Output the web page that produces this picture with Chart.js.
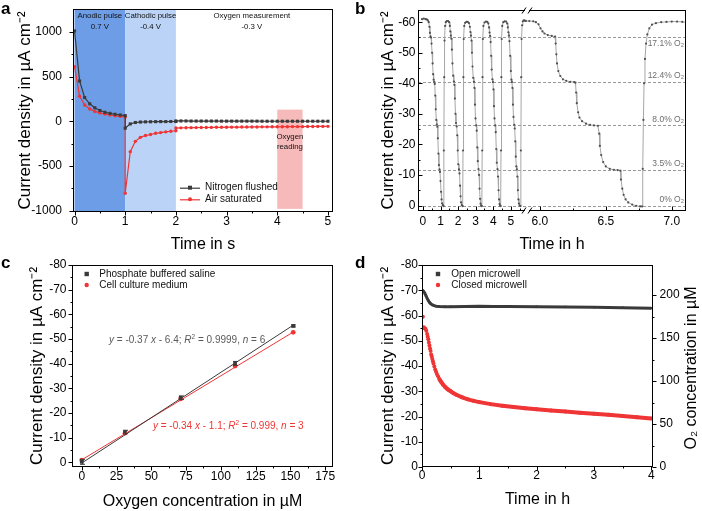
<!DOCTYPE html>
<html lang="en">
<head>
<meta charset="UTF-8" />
<title>Oxygen sensor measurements</title>
<script src="https://cdn.jsdelivr.net/npm/chart.js@4.4.0/dist/chart.umd.min.js"></script>
<style>
  body { margin: 0; background: #fff; font-family: 'Liberation Sans', Arial, sans-serif; }
  #fig { position: relative; width: 702px; height: 511px; }
  #fig canvas { position: absolute; }
  .tag { position: absolute; font-weight: bold; font-size: 17px; line-height: 17px; }
</style>
</head>
<body>
<div id="fig">
  <canvas id="chartA" width="351" height="255" style="left:0;top:0"></canvas>
  <canvas id="chartB" width="351" height="255" style="left:351px;top:0"></canvas>
  <canvas id="chartC" width="351" height="256" style="left:0;top:255px"></canvas>
  <canvas id="chartD" width="351" height="256" style="left:351px;top:255px"></canvas>
  <div class="tag" style="left:1px;top:0">a</div>
  <div class="tag" style="left:355px;top:0">b</div>
  <div class="tag" style="left:1px;top:254px">c</div>
  <div class="tag" style="left:355px;top:254px">d</div>
</div>
<script>
// ---- a: pulse sequence, current density (µA cm-2) vs time (s)
const aTime = [0, 0.1, 0.2, 0.3, 0.4, 0.5, 0.6, 0.7, 0.8, 0.9, 1.0,
  1.0, 1.1, 1.2, 1.3, 1.4, 1.5, 1.6, 1.7, 1.8, 1.9, 2.0,
  2.0, 2.1, 2.2, 2.3, 2.4, 2.5, 2.6, 2.7, 2.8, 2.9, 3.0, 3.1, 3.2, 3.3, 3.4, 3.5,
  3.6, 3.7, 3.8, 3.9, 4.0, 4.1, 4.2, 4.3, 4.4, 4.5, 4.6, 4.7, 4.8, 4.9, 5.0];
const aNitrogen = [1010, 450, 265, 195, 150, 120, 100, 88, 78, 70, 63,
  -78, -30, -14, -9, -7, -6, -5, -4, -4, -3, -3,
  3, 3, 3, 2, 2, 2, 2, 2, 2, 1, 1, 1, 1, 1, 1, 1, 1, 0, 0, 0, 0, 0, 0, 0, 0, 0, 0, 0, 0, 0, 0];
const aAir = [610, 280, 182, 137, 110, 93, 80, 70, 62, 55, 48,
  -805, -340, -225, -180, -160, -148, -135, -127, -119, -112, -107,
  -76, -74, -73, -72, -71, -70, -70, -69, -68, -68, -67, -66, -66, -65, -65, -64,
  -64, -63, -63, -62, -62, -61, -61, -60, -60, -60, -59, -59, -58, -58, -57];
const aPulses = [[0, 1], [1, 2]];          // anodic, cathodic (s)
const aReading = [4, 4.5, -980, 130];      // oxygen reading window
const aTicksX = [0, 1, 2, 3, 4, 5];
const aTicksY = [-1000, -500, 0, 500, 1000];

// ---- b: response to stepwise O2 levels (h)
const bTime = [-0.05, 0.05, 0.15, 0.22, 0.28, 0.33, 0.37, 0.4, 0.43, 0.46, 0.49, 0.52, 0.55, 0.58, 0.61, 0.64, 0.67,
  0.7, 0.73, 0.76, 0.79, 0.82, 0.85, 0.88, 0.91, 0.94, 0.97, 1.0, 1.03, 1.06, 1.09, 1.13, 1.17,
  1.19, 1.21, 1.23, 1.26, 1.3, 1.36, 1.43, 1.49, 1.53, 1.56,
  1.59, 1.62, 1.65, 1.68, 1.72, 1.76, 1.79, 1.82, 1.85, 1.88, 1.92, 1.95, 1.98, 2.01, 2.05, 2.08, 2.11, 2.14, 2.17, 2.21, 2.26,
  2.28, 2.3, 2.32, 2.35, 2.4, 2.47, 2.55, 2.62, 2.67, 2.7,
  2.73, 2.76, 2.79, 2.82, 2.86, 2.9, 2.93, 2.96, 2.99, 3.03, 3.06, 3.09, 3.12, 3.16, 3.19, 3.22, 3.25, 3.28, 3.31, 3.35,
  3.37, 3.39, 3.41, 3.44, 3.5, 3.58, 3.66, 3.72, 3.76, 3.79,
  3.82, 3.85, 3.88, 3.91, 3.95, 3.98, 4.01, 4.04, 4.07, 4.11, 4.14, 4.17, 4.2, 4.24, 4.27, 4.3, 4.33, 4.36, 4.39, 4.42,
  4.44, 4.46, 4.48, 4.51, 4.57, 4.65, 4.73, 4.79, 4.83, 4.86,
  4.89, 4.92, 4.96, 5.0, 5.03, 5.06, 5.09, 5.12, 5.15, 5.19, 5.22, 5.25, 5.28, 5.31, 5.34, 5.37, 5.4, 5.43, 5.46, 5.5, 5.55,
  5.57, 5.59, 5.61, 5.64, 5.68, 5.74, 5.8, 5.86,
  5.92, 5.95, 5.97, 5.99, 6.005, 6.02, 6.035, 6.06, 6.09, 6.115, 6.12, 6.125, 6.13, 6.14, 6.155, 6.175, 6.2, 6.23, 6.26,
  6.27, 6.275, 6.28, 6.29, 6.3, 6.32, 6.35, 6.38, 6.41, 6.44, 6.45, 6.455, 6.465, 6.48, 6.5, 6.53, 6.56, 6.59, 6.61,
  6.615, 6.625, 6.635, 6.65, 6.67, 6.7, 6.73, 6.76, 6.775, 6.78, 6.785, 6.79, 6.797, 6.805, 6.815, 6.83, 6.85, 6.88,
  6.92, 6.96, 7.0, 7.04, 7.08, 7.11];
const bCurrent = [-61.0, -61.2, -61.0, -60.9, -60.6, -60.0, -58.5, -56.5, -55.4, -55.0, -53, -50, -46.5, -43, -41.2, -40.5, -39.8,
  -36, -31.5, -28, -26.5, -25.8, -22, -17, -13.2, -11.8, -11, -8, -4.5, -2, -0.7, -0.1, 0.2,
  -18, -42, -54, -58.8, -60.0, -60.4, -60.4, -60.0, -58.8, -57.0,
  -55.6, -54.6, -51, -46.5, -42.5, -40.6, -39.5, -35, -30, -27, -25.9, -23, -18, -13.5, -11.8, -10.5, -6.5, -3, -1, -0.1, 0.2,
  -18, -42, -54.5, -58.8, -59.8, -60.1, -60.1, -59.7, -58.5, -56.8,
  -55.6, -54, -50, -45.5, -41.8, -40.5, -38.5, -33, -28.5, -26.2, -24.5, -19, -14.5, -11.9, -10, -5.5, -2.2, -0.6, 0, 0.2,
  -18, -42, -54.5, -58.8, -59.9, -60.2, -60.1, -59.6, -58.3, -56.6,
  -55.5, -53.5, -49, -44.5, -41.3, -40.4, -38, -32.5, -28.5, -26.2, -24, -18.5, -14, -11.9, -9.5, -5, -2, -0.5, 0, 0.2,
  -18, -42, -54.5, -58.8, -60, -60.3, -60.2, -59.6, -58.3, -56.7,
  -55.6, -53.8, -49, -44, -41.2, -40.4, -38.5, -33, -29, -26.4, -25.2, -21, -16, -12.8, -11.8, -9.5, -5, -2, -0.6, 0, 0.2,
  -18, -42, -54.5, -59, -60.3, -60.6, -60.5, -60.4,
  -60.4, -60.3, -60.0, -59.3, -58, -57, -56.3, -55.8, -55.5, -55.3, -53, -49.5, -46.5, -44, -42.4, -41.3, -40.8, -40.5, -40.4,
  -40.2, -37, -33.5, -30.5, -28.8, -27.6, -26.8, -26.4, -26.2, -26.1, -23.5, -19.5, -16.5, -14.2, -12.8, -12.0, -11.7, -11.6, -11.4,
  -8.5, -5.5, -3.5, -2.0, -1.0, -0.3, 0.1, 0.3, 0.3, -12, -28, -40, -48, -53, -56, -58, -59.2, -59.7,
  -60.0, -60.1, -60.2, -60.2, -60.1, -60.0];
const bLevels = [-55.3, -40.4, -26.2, -11.6, 0];
const bLevelNames = ['17.1% O₂', '12.4% O₂', '8.0% O₂', '3.5% O₂', '0% O₂'];
const bTickHours = [0, 1, 2, 3, 4, 5, 6.0, 6.5, 7.0];
const bTickNames = ['0', '1', '2', '3', '4', '5', '6.0', '6.5', '7.0'];
const bMinorHours = [0.5, 1.5, 2.5, 3.5, 4.5, 5.5, 6.25, 6.75];
const bTicksY = [-60, -50, -40, -30, -20, -10, 0];
const bBreak = 5.9;     // h, axis break
const bStretch = 7.5;   // part after the break is drawn wider

// ---- c: calibration
const cConc = [0, 31.1, 71.1, 110.2, 152];
const cPBS = [-0.2, -12.3, -26.2, -40.1, -55.3];
const cPBSErr = [1.0, 0.7, 0.7, 0.8, 0.4];
const cMedium = [-0.9, -11.8, -25.7, -39.0, -52.7];
const cFitX = [0, 152];
const cFitPBS = [0.3, -55.6];
const cFitMedium = [-1.0, -52.8];
const cTicksX = [0, 25, 50, 75, 100, 125, 150, 175];
const cTicksY = [-80, -70, -60, -50, -40, -30, -20, -10, 0];

// ---- d: microwells over 4 h
const dOpenTime = [0, 0.015, 0.03, 0.05, 0.07, 0.09, 0.11, 0.13, 0.15, 0.18, 0.21, 0.25, 0.3, 0.4, 0.5, 0.75, 1.0, 1.25, 1.5, 2.0, 2.5, 3.0, 3.5, 4.0];
const dOpen = [-69.5, -69.8, -69.5, -68.8, -67.8, -66.8, -65.9, -65.2, -64.7, -64.2, -63.9, -63.7, -63.6, -63.5, -63.5, -63.6, -63.7, -63.6, -63.6, -63.5, -63.4, -63.3, -63.1, -62.9];
const dClosedTime = [0.015, 0.03, 0.045, 0.06, 0.075, 0.09, 0.1, 0.11, 0.12, 0.13, 0.14, 0.15, 0.16, 0.17, 0.18, 0.19, 0.2,
  0.215, 0.23, 0.245, 0.26, 0.28, 0.3, 0.32, 0.34, 0.37, 0.4, 0.43, 0.46, 0.5, 0.55, 0.6, 0.7, 0.8, 0.9, 1.0,
  1.2, 1.4, 1.6, 1.8, 2.0, 2.25, 2.5, 2.75, 3.0, 3.25, 3.5, 3.75, 4.0];
const dClosed = [-59.5, -55.3, -55.0, -54.8, -54.0, -52.7, -51.6, -50.6, -49.3, -48.1, -46.9, -45.9, -44.6, -43.8, -42.8, -41.9, -41.0,
  -39.8, -38.6, -37.7, -36.8, -35.9, -35.0, -34.2, -33.5, -32.6, -31.8, -31.1, -30.6, -30.0, -29.2, -28.6, -27.6, -26.8, -26.2, -25.7,
  -24.9, -24.3, -23.8, -23.3, -22.9, -22.4, -22.0, -21.5, -21.1, -20.7, -20.2, -19.7, -19.2];
const dTicksX = [0, 1, 2, 3, 4];
const dTicksY = [-80, -70, -60, -50, -40, -30, -20, -10, 0];
const dTicksO2 = [0, 50, 100, 150, 200];

const FONT = "'Liberation Sans', Arial, sans-serif";
const TITLE_Y = 'Current density in µA cm⁻²';
const BLACK = '#3a3a3a';
const RED = '#ef3535';

Chart.defaults.font.family = FONT;
Chart.defaults.color = '#000';

const pts = (xs, ys) => xs.map((x, i) => ({x: x, y: ys[i]}));
const brk = t => t <= bBreak ? t : bBreak + (t - bBreak) * bStretch;

function axis(pos, min, max, ticks, size, pad, title, tpad, labels) {
  const vertical = pos === 'left' || pos === 'right';
  return {
    type: 'linear', position: pos, min: min, max: max,
    afterBuildTicks: s => { s.ticks = ticks.map(v => ({value: v})); },
    afterFit: s => {
      if (s.isHorizontal()) s.height = size; else s.width = size;
      s.paddingLeft = s.paddingRight = s.paddingTop = s.paddingBottom = 0;
    },
    grid: {display: false, drawTicks: false},
    border: {display: false},
    ticks: {
      padding: pad, autoSkip: false, maxRotation: 0, font: {size: 12},
      callback: labels ? (v, i) => labels[i] : v => String(v)
    },
    title: {display: !!title, text: title || '', font: {size: vertical ? 17 : 16}, padding: tpad || 0}
  };
}

// box round the plot and the tick marks
const frame = {
  id: 'frame',
  afterDatasetsDraw(chart, args, o) {
    if (!o.sides) return;
    const ctx = chart.ctx, c = chart.chartArea;
    const L = Math.round(c.left) + 0.5, R = Math.round(c.right) - 0.5;
    const T = Math.round(c.top) + 0.5, B = Math.round(c.bottom) - 0.5;
    const out = o.dir === 'in' ? -1 : 1;
    ctx.save();
    ctx.strokeStyle = '#000';
    ctx.lineWidth = 1;
    ctx.strokeRect(L, T, R - L, B - T);
    o.sides.forEach(([id, side]) => {
      const s = chart.scales[id];
      const major = s.ticks.map(t => t.value);
      const minor = (id === 'x' && o.minorX) ? o.minorX : major.slice(1).map((v, i) => (v + major[i]) / 2);
      const mark = (v, len) => {
        const p = Math.round(s.getPixelForValue(v)) + 0.5;
        ctx.beginPath();
        if (side === 'bottom') { ctx.moveTo(p, B); ctx.lineTo(p, B + out * len); }
        else if (side === 'left') { ctx.moveTo(L, p); ctx.lineTo(L - out * len, p); }
        else { ctx.moveTo(R, p); ctx.lineTo(R + out * len, p); }
        ctx.stroke();
      };
      major.forEach(v => mark(v, 4));
      minor.forEach(v => mark(v, 2));
    });
    if (o.breakAt !== undefined) {
      const x = Math.round(chart.scales.x.getPixelForValue(o.breakAt));
      [B, T].forEach(y => {
        ctx.fillStyle = '#fff';
        ctx.fillRect(x - 2, y - 1.5, 4, 3);
        ctx.beginPath();
        ctx.moveTo(x - 5, y + 3); ctx.lineTo(x - 1, y - 3);
        ctx.moveTo(x + 1, y + 3); ctx.lineTo(x + 5, y - 3);
        ctx.stroke();
      });
    }
    ctx.restore();
  }
};

// shaded windows (a) and dashed O2 levels (b)
const bands = {
  id: 'bands',
  beforeDatasetsDraw(chart, args, o) {
    const ctx = chart.ctx, c = chart.chartArea, x = chart.scales.x, y = chart.scales.y;
    ctx.save();
    (o.items || []).forEach(b => {
      const x0 = x.getPixelForValue(b.x0), x1 = x.getPixelForValue(b.x1);
      const yb = b.y0 === undefined ? c.bottom : y.getPixelForValue(b.y0);
      const yt = b.y1 === undefined ? c.top : y.getPixelForValue(b.y1);
      ctx.fillStyle = b.color;
      ctx.fillRect(x0, yt, x1 - x0, yb - yt);
    });
    if (o.levels) {
      ctx.strokeStyle = '#9a9a9a';
      ctx.lineWidth = 1;
      ctx.setLineDash([3, 2]);
      o.levels.forEach(v => {
        const p = Math.round(y.getPixelForValue(v)) + 0.5;
        ctx.beginPath(); ctx.moveTo(c.left, p); ctx.lineTo(c.right, p); ctx.stroke();
      });
      ctx.setLineDash([]);
      ctx.fillStyle = '#6e6e6e';
      ctx.font = '8.5px ' + FONT;
      ctx.textAlign = 'right';
      ctx.textBaseline = 'middle';
      o.levels.forEach((v, i) => {
        const p = y.getPixelForValue(v) + (i === 0 ? 7 : -6);
        ctx.fillText(o.names[i], c.right - 2, p);
      });
    }
    ctx.restore();
  }
};

// small error bars
const errbars = {
  id: 'errbars',
  afterDatasetsDraw(chart) {
    const ctx = chart.ctx;
    chart.data.datasets.forEach(ds => {
      if (!ds.errors) return;
      const x = chart.scales.x, y = chart.scales.y;
      ctx.save();
      ctx.strokeStyle = ds.borderColor;
      ctx.lineWidth = 1;
      ds.data.forEach((p, i) => {
        const px = Math.round(x.getPixelForValue(p.x)) + 0.5;
        const y0 = y.getPixelForValue(p.y - ds.errors[i]), y1 = y.getPixelForValue(p.y + ds.errors[i]);
        ctx.beginPath();
        ctx.moveTo(px, y0); ctx.lineTo(px, y1);
        ctx.moveTo(px - 2.5, y0); ctx.lineTo(px + 2.5, y0);
        ctx.moveTo(px - 2.5, y1); ctx.lineTo(px + 2.5, y1);
        ctx.stroke();
      });
      ctx.restore();
    });
  }
};

function drawRuns(ctx, runs, x, y, size, color, align, rot) {
  ctx.save();
  ctx.translate(x, y);
  ctx.rotate(rot || 0);
  ctx.fillStyle = color;
  ctx.textBaseline = 'middle';
  ctx.textAlign = 'left';
  const fontOf = k => (k === 'i' ? 'italic ' : '') + (k === 'sup' ? size * 0.65 : size) + 'px ' + FONT;
  let w = 0;
  runs.forEach(r => { ctx.font = fontOf(r[1]); w += ctx.measureText(r[0]).width; });
  let cx = align === 'left' ? 0 : align === 'right' ? -w : -w / 2;
  runs.forEach(r => {
    ctx.font = fontOf(r[1]);
    ctx.fillText(r[0], cx, r[1] === 'sup' ? -size * 0.35 : 0);
    cx += ctx.measureText(r[0]).width;
  });
  ctx.restore();
}

const notes = {
  id: 'notes',
  afterDraw(chart, args, o) {
    (o.items || []).forEach(n => {
      const px = n.px ? n.x : chart.scales.x.getPixelForValue(n.x);
      const py = n.px ? n.y : chart.scales.y.getPixelForValue(n.y);
      drawRuns(chart.ctx, n.runs || [[n.text, '']], px, py, n.size || 7.8, n.color || '#111', n.align || 'center', n.rot);
    });
  }
};

// legend drawn inside the plot
const keys = {
  id: 'keys',
  afterDraw(chart, args, o) {
    if (o.x === undefined) return;
    const ctx = chart.ctx;
    let row = 0;
    chart.data.datasets.forEach(ds => {
      if (!ds.label) return;
      const y = o.y + row * o.dy;
      row++;
      ctx.save();
      ctx.fillStyle = ds.borderColor;
      ctx.strokeStyle = ds.borderColor;
      if (o.line) {
        ctx.lineWidth = 1.2;
        ctx.beginPath(); ctx.moveTo(o.x - 10, y + 0.5); ctx.lineTo(o.x + 10, y + 0.5); ctx.stroke();
      }
      ctx.beginPath();
      if (ds.pointStyle === 'rect') ctx.rect(o.x - o.r, y - o.r, 2 * o.r, 2 * o.r);
      else ctx.arc(o.x, y, o.r, 0, Math.PI * 2);
      ctx.fill();
      ctx.fillStyle = '#111';
      ctx.font = o.size + 'px ' + FONT;
      ctx.textBaseline = 'middle';
      ctx.textAlign = 'left';
      ctx.fillText(ds.label, o.x + o.gap, y);
      ctx.restore();
    });
  }
};

Chart.register(frame, bands, errbars, notes, keys);

const common = {
  responsive: false,
  animation: false,
  events: []
};

// a
new Chart(document.getElementById('chartA'), {
  type: 'scatter',
  data: {
    datasets: [
      {label: 'Nitrogen flushed', data: pts(aTime, aNitrogen), showLine: true, borderColor: BLACK, borderWidth: 1.2,
        pointStyle: 'rect', pointRadius: 2.2, pointBackgroundColor: BLACK, pointBorderWidth: 0},
      {label: 'Air saturated', data: pts(aTime, aAir), showLine: true, borderColor: RED, borderWidth: 1.2,
        pointStyle: 'circle', pointRadius: 1.7, pointBackgroundColor: RED, pointBorderWidth: 0}
    ]
  },
  options: Object.assign({}, common, {
    layout: {padding: {left: 0, right: 18, top: 9, bottom: 0}},
    scales: {
      x: axis('bottom', -0.03, 5.1, aTicksX, 43, 2.5, 'Time in s', {top: 0, bottom: 0.4}),
      y: axis('left', -1015, 1255, aTicksY, 73, 11, TITLE_Y, {top: 14.8, bottom: 0})
    },
    plugins: {
      legend: {display: false}, tooltip: {enabled: false},
      frame: {dir: 'out', sides: [['x', 'bottom'], ['y', 'left']]},
      bands: {items: [
        {x0: aPulses[0][0], x1: aPulses[0][1], color: '#6d9de6'},
        {x0: aPulses[1][0], x1: aPulses[1][1], color: '#bad3f6'},
        {x0: aReading[0], x1: aReading[1], y0: aReading[2], y1: aReading[3], color: '#f7baba'}
      ]},
      notes: {items: [
        {x: 0.5, y: 1178, text: 'Anodic pulse'}, {x: 0.5, y: 1060, text: '0.7 V'},
        {x: 1.5, y: 1178, text: 'Cathodic pulse'}, {x: 1.5, y: 1060, text: '-0.4 V'},
        {x: 3.5, y: 1178, text: 'Oxygen measurement'}, {x: 3.5, y: 1060, text: '-0.3 V'},
        {x: 4.25, y: -175, text: 'Oxygen'}, {x: 4.25, y: -287, text: 'reading'}
      ]},
      keys: {x: 190, y: 187.7, dy: 11.6, line: true, r: 2, size: 10, gap: 15}
    }
  })
});

// b
new Chart(document.getElementById('chartB'), {
  type: 'scatter',
  data: {
    datasets: [
      {data: pts(bTime.map(brk), bCurrent), showLine: true, borderColor: '#a6a6a6', borderWidth: 1,
        pointRadius: 1.1, pointBackgroundColor: '#505050', pointBorderWidth: 0}
    ]
  },
  options: Object.assign({}, common, {
    layout: {padding: {left: 0, right: 16, top: 10, bottom: 0}},
    scales: {
      x: axis('bottom', -0.28, 14.96, bTickHours.map(brk), 44, 3.5, 'Time in h', {top: 0, bottom: 0.4}, bTickNames),
      y: Object.assign(axis('left', -64, 1.8, bTicksY, 67, 2.5, TITLE_Y, {top: 27.3, bottom: 0}), {reverse: true})
    },
    plugins: {
      legend: {display: false}, tooltip: {enabled: false},
      frame: {dir: 'in', sides: [['x', 'bottom'], ['y', 'left']], minorX: bMinorHours.map(brk), breakAt: bBreak},
      bands: {levels: bLevels, names: bLevelNames}
    }
  })
});

// c
new Chart(document.getElementById('chartC'), {
  type: 'scatter',
  data: {
    datasets: [
      {data: pts(cFitX, cFitPBS), showLine: true, borderColor: BLACK, borderWidth: 1, pointRadius: 0},
      {data: pts(cFitX, cFitMedium), showLine: true, borderColor: RED, borderWidth: 1, pointRadius: 0},
      {label: 'Phosphate buffered saline', data: pts(cConc, cPBS), errors: cPBSErr, borderColor: BLACK,
        pointStyle: 'rect', pointRadius: 2.6, pointBackgroundColor: BLACK, pointBorderWidth: 0},
      {label: 'Cell culture medium', data: pts(cConc, cMedium), borderColor: RED,
        pointStyle: 'circle', pointRadius: 2.4, pointBackgroundColor: RED, pointBorderWidth: 0}
    ]
  },
  options: Object.assign({}, common, {
    layout: {padding: {left: 0, right: 18, top: 10, bottom: 0}},
    scales: {
      x: axis('bottom', -7, 180.6, cTicksX, 44, 2.5, 'Oxygen concentration in µM', {top: 0, bottom: 0}),
      y: Object.assign(axis('left', -80, 1.9, cTicksY, 72, 5.5, TITLE_Y, {top: 27.3, bottom: 0}), {reverse: true})
    },
    plugins: {
      legend: {display: false}, tooltip: {enabled: false},
      frame: {dir: 'out', sides: [['x', 'bottom'], ['y', 'left']]},
      notes: {items: [
        {x: 19.6, y: -49.5, size: 10, color: '#5a5a5a', align: 'left', runs: [['y', 'i'], [' = -0.37 ', ''], ['x', 'i'],
          [' - 6.4; ', ''], ['R', 'i'], ['2', 'sup'], [' = 0.9999, ', ''], ['n', 'i'], [' = 6', '']]},
        {x: 51.2, y: -14.6, size: 10, color: RED, align: 'left', runs: [['y', 'i'], [' = -0.34 ', ''], ['x', 'i'],
          [' - 1.1; ', ''], ['R', 'i'], ['2', 'sup'], [' = 0.999, ', ''], ['n', 'i'], [' = 3', '']]}
      ]},
      keys: {x: 86.7, y: 19, dy: 11, line: false, r: 2.2, size: 10, gap: 12.6}
    }
  })
});

// d
new Chart(document.getElementById('chartD'), {
  type: 'scatter',
  data: {
    datasets: [
      {label: 'Open microwell', data: pts(dOpenTime, dOpen), showLine: true, borderColor: BLACK, borderWidth: 3,
        pointStyle: 'rect', pointRadius: 1.6, pointBackgroundColor: BLACK, pointBorderWidth: 0},
      {label: 'Closed microwell', data: pts(dClosedTime, dClosed), showLine: true, borderColor: RED, borderWidth: 4,
        segment: {borderColor: ctx => ctx.p0.parsed.x < 0.3 ? 'rgba(0,0,0,0)' : RED},
        pointStyle: 'circle', pointRadius: 2, pointBackgroundColor: RED, pointBorderWidth: 0}
    ]
  },
  options: Object.assign({}, common, {
    layout: {padding: {left: 0, right: 0, top: 10, bottom: 0}},
    scales: {
      x: axis('bottom', 0, 4.03, dTicksX, 44, 1.6, 'Time in h', {top: 0, bottom: 1.4}),
      y: Object.assign(axis('left', -80, 0, dTicksY, 71, 4, TITLE_Y, {top: 27.3, bottom: 0}), {reverse: true}),
      y2: axis('right', 0, 235, dTicksO2, 49, 6.6)
    },
    plugins: {
      legend: {display: false}, tooltip: {enabled: false},
      frame: {dir: 'out', sides: [['x', 'bottom'], ['y', 'left'], ['y2', 'right']]},
      notes: {items: [
        {px: true, x: 341, y: 113, size: 16, color: '#000', rot: -Math.PI / 2, text: 'O₂ concentration in µM'}
      ]},
      keys: {x: 87, y: 19, dy: 11, line: false, r: 2.2, size: 10, gap: 13.3}
    }
  })
});
</script>
</body>
</html>
